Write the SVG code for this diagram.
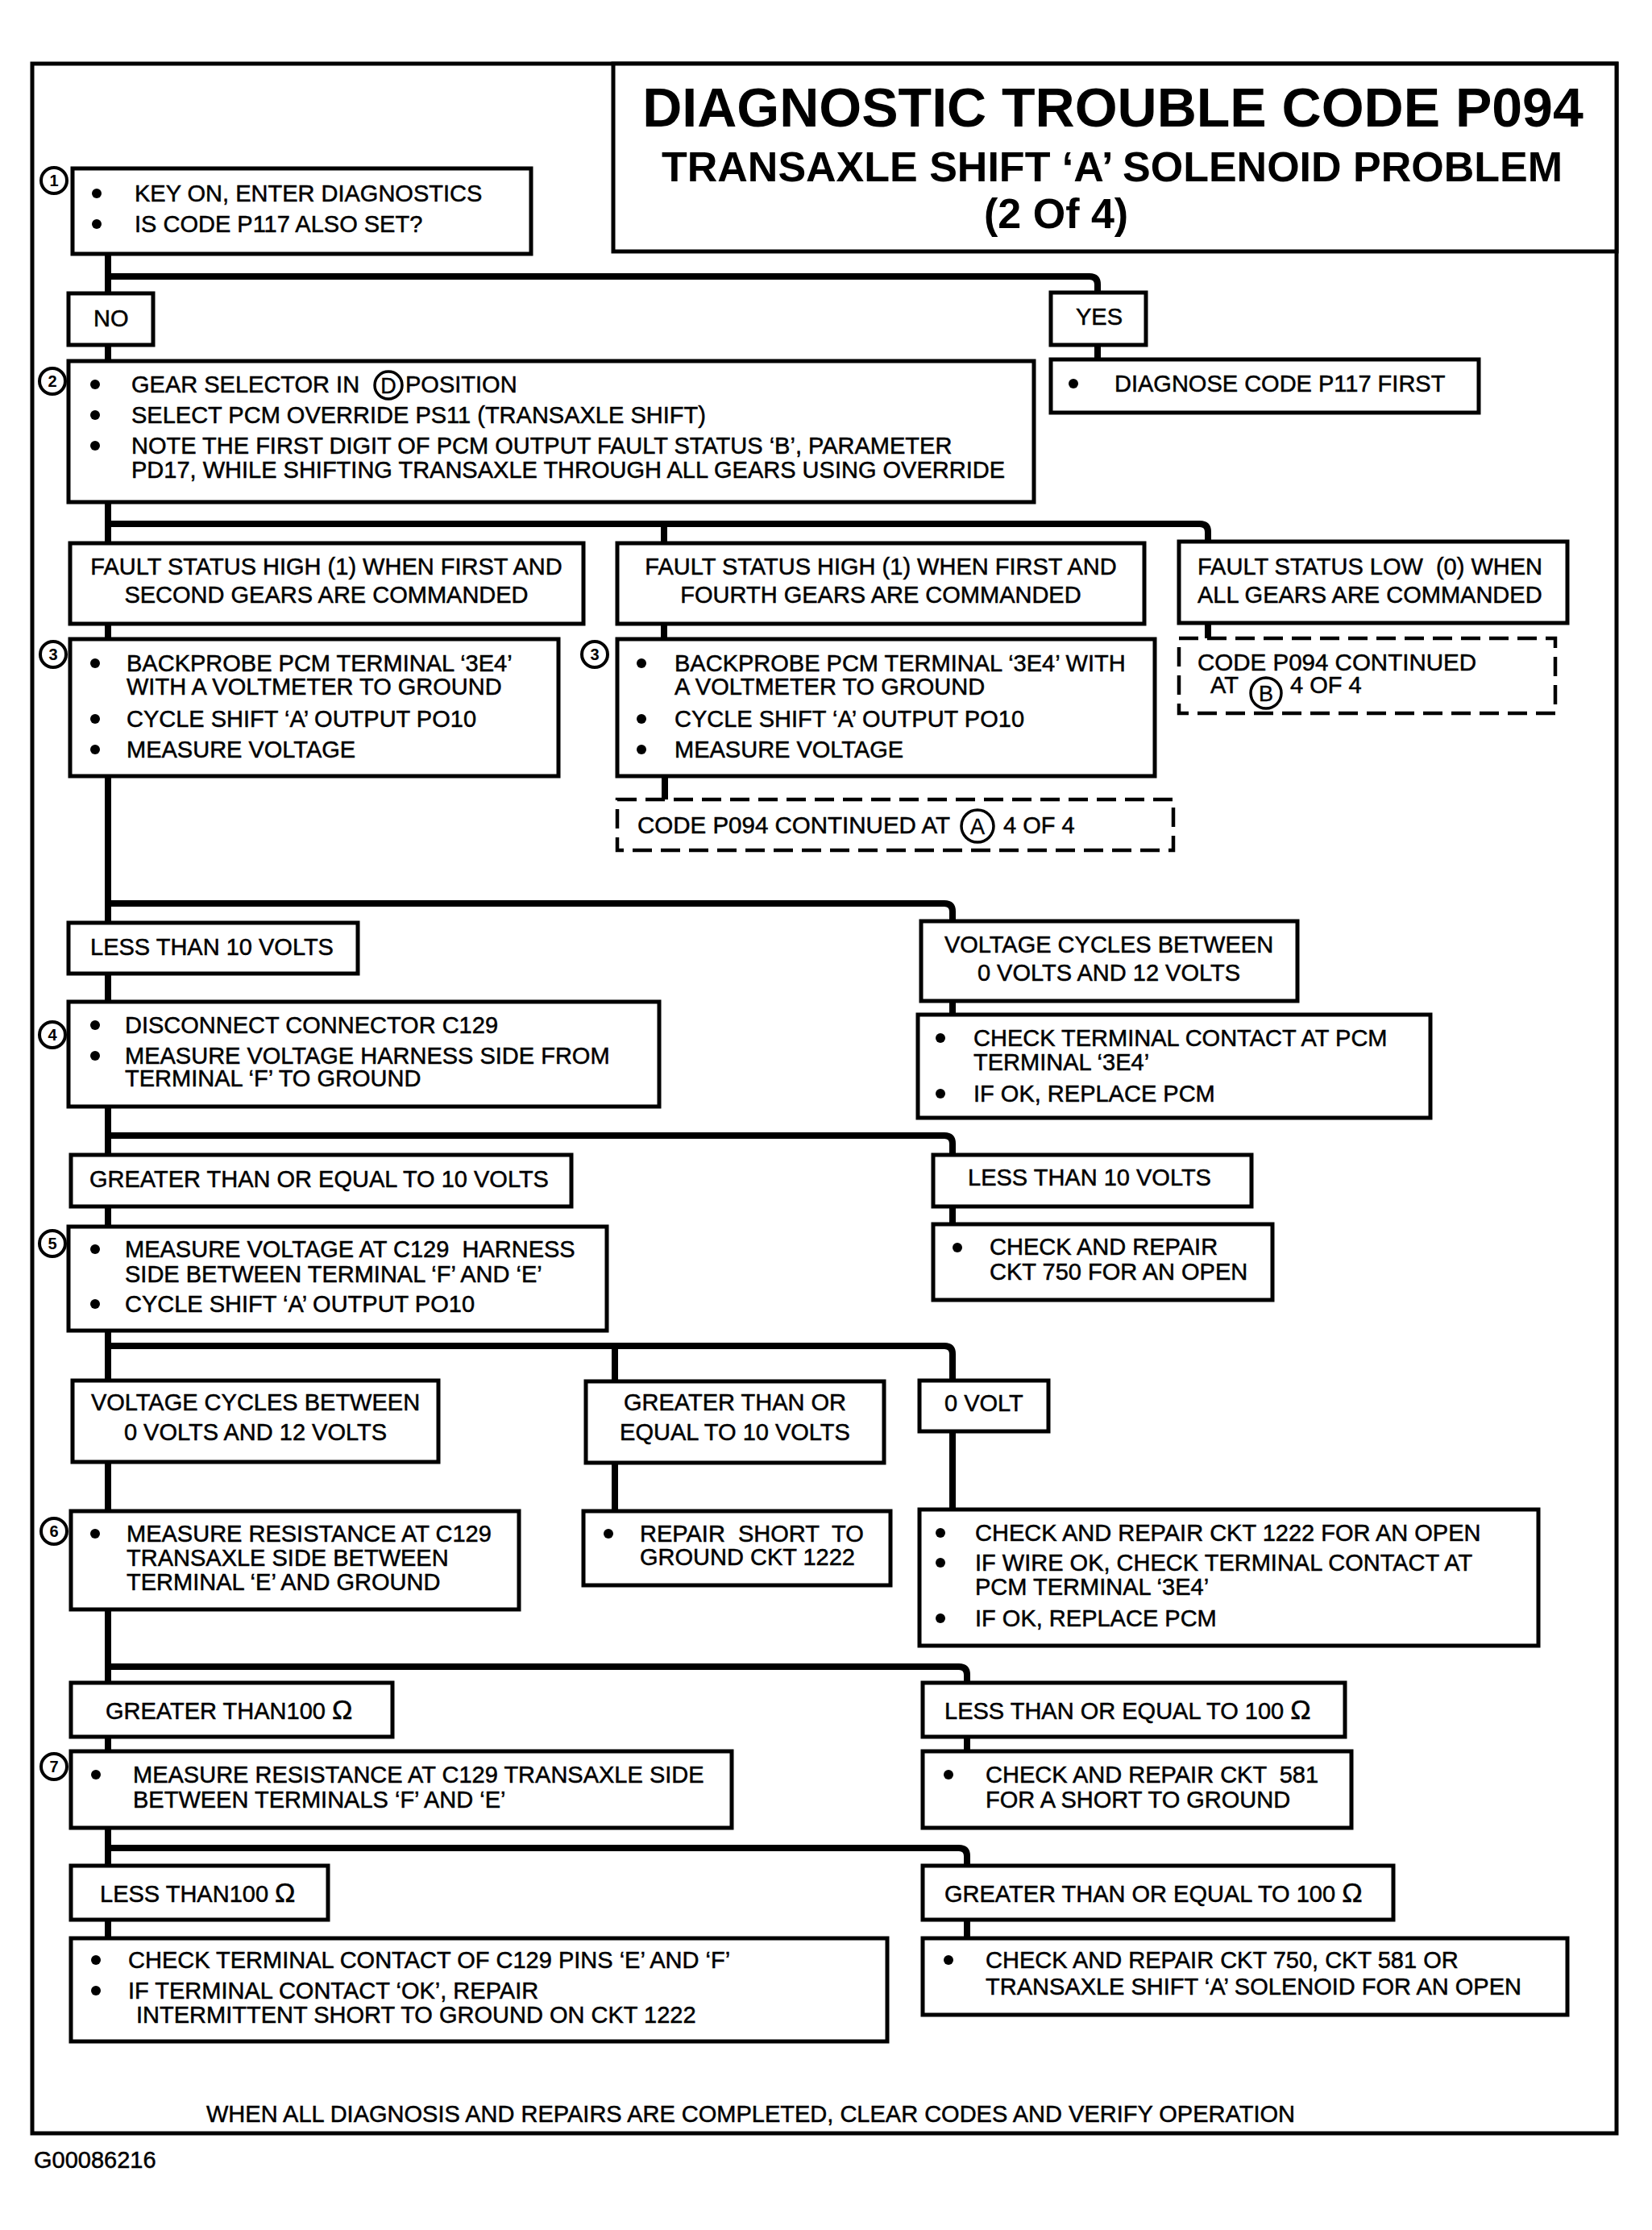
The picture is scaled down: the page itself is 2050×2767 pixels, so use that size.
<svg xmlns="http://www.w3.org/2000/svg" width="2050" height="2767" viewBox="0 0 2050 2767">
<style>
.box{fill:#fff;stroke:#000;stroke-width:5}
.dash{fill:#fff;stroke:#000;stroke-width:4.5;stroke-dasharray:24 11}
.c{fill:none;stroke:#000;stroke-width:8;stroke-linejoin:round}
.t{font-family:"Liberation Sans",Arial,sans-serif;font-size:29px;fill:#000;stroke:#000;stroke-width:0.5}
.m{text-anchor:middle}
.b{fill:#000}
.n{fill:#fff;stroke:#000;stroke-width:4}
.nt{font-family:"Liberation Sans",Arial,sans-serif;font-weight:bold;font-size:20px;fill:#000;text-anchor:middle}
.lt{font-family:"Liberation Sans",Arial,sans-serif;font-size:27px;fill:#000;text-anchor:middle;stroke:#000;stroke-width:0.4}
.h1{font-family:"Liberation Sans",Arial,sans-serif;font-weight:bold;font-size:68px;fill:#000}
.h2{font-family:"Liberation Sans",Arial,sans-serif;font-weight:bold;font-size:52px;fill:#000}
</style>
<rect width="2050" height="2767" fill="#fff"/>
<rect x="40" y="79" width="1966" height="2568" fill="none" stroke="#000" stroke-width="5"/>

<g id="title">
<rect x="761" y="79" width="1245" height="233" fill="#fff" stroke="#000" stroke-width="5"/>
<text class="h1" x="1381" y="157" text-anchor="middle">DIAGNOSTIC TROUBLE CODE P094</text>
<text class="h2" x="1380" y="225" text-anchor="middle">TRANSAXLE SHIFT ‘A’ SOLENOID PROBLEM</text>
<text class="h2" x="1221" y="283" font-size="49">(2 Of 4)</text>
</g>

<g id="connectors">
<path class="c" d="M134 315V364"/>
<path class="c" d="M134 343H1352Q1362 343 1362 353V363"/>
<path class="c" d="M1362 428V446"/>
<path class="c" d="M134 428V448"/>
<path class="c" d="M134 623V674"/>
<path class="c" d="M134 650H1489Q1499 650 1499 660V672"/>
<path class="c" d="M824 650V674"/>
<path class="c" d="M134 774V793"/>
<path class="c" d="M824 774V793"/>
<path class="c" d="M1499 773V792"/>
<path class="c" d="M825 963V992"/>
<path class="c" d="M134 963V1145"/>
<path class="c" d="M134 1121H1172Q1182 1121 1182 1131V1143"/>
<path class="c" d="M1182 1242V1259"/>
<path class="c" d="M134 1208V1243"/>
<path class="c" d="M134 1373V1433"/>
<path class="c" d="M134 1409H1172Q1182 1409 1182 1419V1433"/>
<path class="c" d="M1182 1497V1519"/>
<path class="c" d="M134 1497V1522"/>
<path class="c" d="M134 1651V1713"/>
<path class="c" d="M134 1670H1172Q1182 1670 1182 1680V1713"/>
<path class="c" d="M763 1670V1714"/>
<path class="c" d="M134 1814V1875"/>
<path class="c" d="M763 1815V1875"/>
<path class="c" d="M1182 1776V1873"/>
<path class="c" d="M134 1997V2088"/>
<path class="c" d="M134 2068H1190Q1200 2068 1200 2078V2088"/>
<path class="c" d="M1200 2155V2173"/>
<path class="c" d="M134 2155V2173"/>
<path class="c" d="M134 2268V2315"/>
<path class="c" d="M134 2293H1190Q1200 2293 1200 2303V2315"/>
<path class="c" d="M1200 2382V2405"/>
<path class="c" d="M134 2382V2405"/>
</g>

<g id="step1">
<circle class="n" cx="67" cy="224" r="16"/><text class="nt" x="67" y="231">1</text>
<rect class="box" x="90" y="209" width="569" height="106"/>
<circle class="b" cx="120" cy="240" r="6"/><text class="t" x="167" y="250">KEY ON, ENTER DIAGNOSTICS</text>
<circle class="b" cx="120" cy="278" r="6"/><text class="t" x="167" y="288">IS CODE P117 ALSO SET?</text>
</g>

<g id="no"><rect class="box" x="85" y="364" width="105" height="64"/><text class="t" x="116" y="405">NO</text></g>
<g id="yes"><rect class="box" x="1304" y="363" width="118" height="65"/><text class="t" x="1335" y="403">YES</text></g>

<g id="diagnose">
<rect class="box" x="1304" y="446" width="531" height="66"/>
<circle class="b" cx="1332" cy="476" r="6"/><text class="t" x="1383" y="486">DIAGNOSE CODE P117 FIRST</text>
</g>

<g id="step2">
<circle class="n" cx="65" cy="473" r="16"/><text class="nt" x="65" y="480">2</text>
<rect class="box" x="85" y="448" width="1198" height="175"/>
<circle class="b" cx="118" cy="477" r="6"/><text class="t" x="163" y="487">GEAR SELECTOR IN</text>
<circle cx="482" cy="478" r="17" fill="#fff" stroke="#000" stroke-width="3.5"/><text class="lt" x="482" y="488">D</text>
<text class="t" x="503" y="487">POSITION</text>
<circle class="b" cx="118" cy="515" r="6"/><text class="t" x="163" y="525">SELECT PCM OVERRIDE PS11 (TRANSAXLE SHIFT)</text>
<circle class="b" cx="118" cy="553" r="6"/><text class="t" x="163" y="563">NOTE THE FIRST DIGIT OF PCM OUTPUT FAULT STATUS ‘B’, PARAMETER</text>
<text class="t" x="163" y="593">PD17, WHILE SHIFTING TRANSAXLE THROUGH ALL GEARS USING OVERRIDE</text>
</g>

<g id="faulthigh1">
<rect class="box" x="87" y="674" width="637" height="100"/>
<text class="t m" x="405" y="713">FAULT STATUS HIGH (1) WHEN FIRST AND</text>
<text class="t m" x="405" y="748">SECOND GEARS ARE COMMANDED</text>
</g>
<g id="faulthigh2">
<rect class="box" x="766" y="674" width="654" height="100"/>
<text class="t m" x="1093" y="713">FAULT STATUS HIGH (1) WHEN FIRST AND</text>
<text class="t m" x="1093" y="748">FOURTH GEARS ARE COMMANDED</text>
</g>
<g id="faultlow">
<rect class="box" x="1463" y="672" width="482" height="101"/>
<text class="t" x="1486" y="713" xml:space="preserve">FAULT STATUS LOW  (0) WHEN</text>
<text class="t" x="1486" y="748">ALL GEARS ARE COMMANDED</text>
</g>

<g id="contB">
<rect class="dash" x="1463" y="792" width="467" height="93"/>
<text class="t" x="1486" y="832" textLength="346" lengthAdjust="spacingAndGlyphs">CODE P094 CONTINUED</text>
<text class="t" x="1502" y="860">AT</text>
<circle cx="1571" cy="860" r="19" fill="#fff" stroke="#000" stroke-width="3.5"/><text class="lt" x="1571" y="870">B</text>
<text class="t" x="1601" y="860">4 OF 4</text>
</g>

<g id="step3a">
<circle class="n" cx="66" cy="812" r="16"/><text class="nt" x="66" y="819">3</text>
<rect class="box" x="87" y="793" width="606" height="170"/>
<circle class="b" cx="118" cy="823" r="6"/><text class="t" x="157" y="833">BACKPROBE PCM TERMINAL ‘3E4’</text>
<text class="t" x="157" y="862">WITH A VOLTMETER TO GROUND</text>
<circle class="b" cx="118" cy="892" r="6"/><text class="t" x="157" y="902">CYCLE SHIFT ‘A’ OUTPUT PO10</text>
<circle class="b" cx="118" cy="930" r="6"/><text class="t" x="157" y="940">MEASURE VOLTAGE</text>
</g>

<g id="step3b">
<circle class="n" cx="738" cy="812" r="16"/><text class="nt" x="738" y="819">3</text>
<rect class="box" x="766" y="793" width="667" height="170"/>
<circle class="b" cx="796" cy="823" r="6"/><text class="t" x="837" y="833">BACKPROBE PCM TERMINAL ‘3E4’ WITH</text>
<text class="t" x="837" y="862">A VOLTMETER TO GROUND</text>
<circle class="b" cx="796" cy="892" r="6"/><text class="t" x="837" y="902">CYCLE SHIFT ‘A’ OUTPUT PO10</text>
<circle class="b" cx="796" cy="930" r="6"/><text class="t" x="837" y="940">MEASURE VOLTAGE</text>
</g>

<g id="contA">
<rect class="dash" x="766" y="992" width="690" height="63"/>
<text class="t" x="791" y="1034" textLength="388" lengthAdjust="spacingAndGlyphs">CODE P094 CONTINUED AT</text>
<circle cx="1213" cy="1025" r="20" fill="#fff" stroke="#000" stroke-width="3.5"/><text class="lt" x="1213" y="1035">A</text>
<text class="t" x="1245" y="1034">4 OF 4</text>
</g>

<g id="less10a"><rect class="box" x="85" y="1145" width="359" height="63"/><text class="t" x="112" y="1185">LESS THAN 10 VOLTS</text></g>

<g id="cycles1">
<rect class="box" x="1143" y="1143" width="467" height="99"/>
<text class="t m" x="1376" y="1182">VOLTAGE CYCLES BETWEEN</text>
<text class="t m" x="1376" y="1217">0 VOLTS AND 12 VOLTS</text>
</g>

<g id="step4">
<circle class="n" cx="65" cy="1284" r="16"/><text class="nt" x="65" y="1291">4</text>
<rect class="box" x="85" y="1243" width="733" height="130"/>
<circle class="b" cx="118" cy="1272" r="6"/><text class="t" x="155" y="1282">DISCONNECT CONNECTOR C129</text>
<circle class="b" cx="118" cy="1310" r="6"/><text class="t" x="155" y="1320">MEASURE VOLTAGE HARNESS SIDE FROM</text>
<text class="t" x="155" y="1348">TERMINAL ‘F’ TO GROUND</text>
</g>

<g id="checkpcm1">
<rect class="box" x="1139" y="1259" width="636" height="128"/>
<circle class="b" cx="1167" cy="1288" r="6"/><text class="t" x="1208" y="1298">CHECK TERMINAL CONTACT AT PCM</text>
<text class="t" x="1208" y="1328">TERMINAL ‘3E4’</text>
<circle class="b" cx="1167" cy="1357" r="6"/><text class="t" x="1208" y="1367">IF OK, REPLACE PCM</text>
</g>

<g id="ge10"><rect class="box" x="88" y="1433" width="621" height="64"/><text class="t" x="111" y="1473">GREATER THAN OR EQUAL TO 10 VOLTS</text></g>
<g id="less10b"><rect class="box" x="1158" y="1433" width="395" height="64"/><text class="t" x="1201" y="1471">LESS THAN 10 VOLTS</text></g>

<g id="step5">
<circle class="n" cx="65" cy="1543" r="16"/><text class="nt" x="65" y="1550">5</text>
<rect class="box" x="85" y="1522" width="668" height="129"/>
<circle class="b" cx="118" cy="1550" r="6"/><text class="t" x="155" y="1560" xml:space="preserve">MEASURE VOLTAGE AT C129  HARNESS</text>
<text class="t" x="155" y="1591">SIDE BETWEEN TERMINAL ‘F’ AND ‘E’</text>
<circle class="b" cx="118" cy="1618" r="6"/><text class="t" x="155" y="1628">CYCLE SHIFT ‘A’ OUTPUT PO10</text>
</g>

<g id="ckt750">
<rect class="box" x="1158" y="1519" width="421" height="94"/>
<circle class="b" cx="1188" cy="1548" r="6"/><text class="t" x="1228" y="1557">CHECK AND REPAIR</text>
<text class="t" x="1228" y="1588">CKT 750 FOR AN OPEN</text>
</g>

<g id="cycles2">
<rect class="box" x="90" y="1713" width="454" height="101"/>
<text class="t m" x="317" y="1750">VOLTAGE CYCLES BETWEEN</text>
<text class="t m" x="317" y="1787">0 VOLTS AND 12 VOLTS</text>
</g>
<g id="ge10b">
<rect class="box" x="727" y="1714" width="370" height="101"/>
<text class="t m" x="912" y="1750">GREATER THAN OR</text>
<text class="t m" x="912" y="1787">EQUAL TO 10 VOLTS</text>
</g>
<g id="zerovolt"><rect class="box" x="1141" y="1713" width="160" height="63"/><text class="t" x="1172" y="1751">0 VOLT</text></g>

<g id="step6">
<circle class="n" cx="67" cy="1900" r="16"/><text class="nt" x="67" y="1907">6</text>
<rect class="box" x="88" y="1875" width="556" height="122"/>
<circle class="b" cx="118" cy="1903" r="6"/><text class="t" x="157" y="1913">MEASURE RESISTANCE AT C129</text>
<text class="t" x="157" y="1943">TRANSAXLE SIDE BETWEEN</text>
<text class="t" x="157" y="1973">TERMINAL ‘E’ AND GROUND</text>
</g>

<g id="repairshort">
<rect class="box" x="724" y="1875" width="381" height="92"/>
<circle class="b" cx="755" cy="1903" r="6"/><text class="t" x="794" y="1913" xml:space="preserve">REPAIR  SHORT  TO</text>
<text class="t" x="794" y="1942">GROUND CKT 1222</text>
</g>

<g id="ckt1222">
<rect class="box" x="1141" y="1873" width="768" height="169"/>
<circle class="b" cx="1167" cy="1902" r="6"/><text class="t" x="1210" y="1912">CHECK AND REPAIR CKT 1222 FOR AN OPEN</text>
<circle class="b" cx="1167" cy="1939" r="6"/><text class="t" x="1210" y="1949">IF WIRE OK, CHECK TERMINAL CONTACT AT</text>
<text class="t" x="1210" y="1979">PCM TERMINAL ‘3E4’</text>
<circle class="b" cx="1167" cy="2008" r="6"/><text class="t" x="1210" y="2018">IF OK, REPLACE PCM</text>
</g>

<g id="gt100"><rect class="box" x="88" y="2088" width="399" height="67"/><text class="t" x="131" y="2133">GREATER THAN100 <tspan font-size="34">Ω</tspan></text></g>
<g id="le100"><rect class="box" x="1145" y="2088" width="524" height="67"/><text class="t" x="1172" y="2133">LESS THAN OR EQUAL TO 100 <tspan font-size="34">Ω</tspan></text></g>

<g id="step7">
<circle class="n" cx="67" cy="2192" r="16"/><text class="nt" x="67" y="2199">7</text>
<rect class="box" x="88" y="2173" width="820" height="95"/>
<circle class="b" cx="119" cy="2202" r="6"/><text class="t" x="165" y="2212">MEASURE RESISTANCE AT C129 TRANSAXLE SIDE</text>
<text class="t" x="165" y="2243">BETWEEN TERMINALS ‘F’ AND ‘E’</text>
</g>

<g id="ckt581">
<rect class="box" x="1145" y="2173" width="532" height="95"/>
<circle class="b" cx="1177" cy="2202" r="6"/><text class="t" x="1223" y="2212" xml:space="preserve">CHECK AND REPAIR CKT  581</text>
<text class="t" x="1223" y="2243">FOR A SHORT TO GROUND</text>
</g>

<g id="lt100"><rect class="box" x="88" y="2315" width="319" height="67"/><text class="t" x="124" y="2360">LESS THAN100 <tspan font-size="34">Ω</tspan></text></g>
<g id="ge100"><rect class="box" x="1145" y="2315" width="584" height="67"/><text class="t" x="1172" y="2360">GREATER THAN OR EQUAL TO 100 <tspan font-size="34">Ω</tspan></text></g>

<g id="pins">
<rect class="box" x="88" y="2405" width="1013" height="128"/>
<circle class="b" cx="119" cy="2432" r="6"/><text class="t" x="159" y="2442">CHECK TERMINAL CONTACT OF C129 PINS ‘E’ AND ‘F’</text>
<circle class="b" cx="119" cy="2470" r="6"/><text class="t" x="159" y="2480">IF TERMINAL CONTACT ‘OK’, REPAIR</text>
<text class="t" x="169" y="2510">INTERMITTENT SHORT TO GROUND ON CKT 1222</text>
</g>

<g id="openckt">
<rect class="box" x="1145" y="2405" width="800" height="95"/>
<circle class="b" cx="1177" cy="2432" r="6"/><text class="t" x="1223" y="2442">CHECK AND REPAIR CKT 750, CKT 581 OR</text>
<text class="t" x="1223" y="2475">TRANSAXLE SHIFT ‘A’ SOLENOID FOR AN OPEN</text>
</g>

<text class="t" x="256" y="2633">WHEN ALL DIAGNOSIS AND REPAIRS ARE COMPLETED, CLEAR CODES AND VERIFY OPERATION</text>
<text class="t" x="42" y="2690" font-size="24" stroke-width="0.3">G00086216</text>
</svg>
